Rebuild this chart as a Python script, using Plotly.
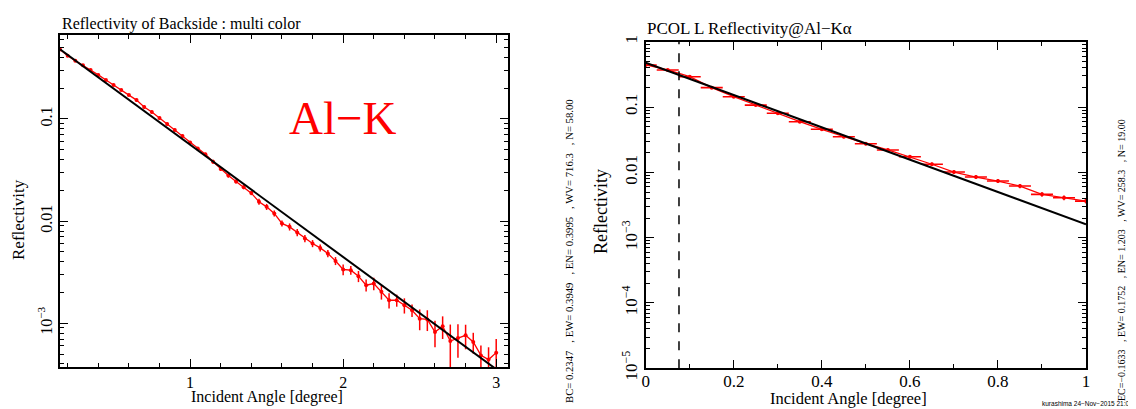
import plotly.graph_objects as go

# ---------------- data: left panel (Backside, multi color, Al-K) ----------------
left_angle = [0.15, 0.20, 0.25, 0.30, 0.35, 0.40, 0.45, 0.50, 0.55, 0.60,
              0.65, 0.70, 0.75, 0.80, 0.85, 0.90, 0.95, 1.00, 1.05, 1.10,
              1.15, 1.20, 1.25, 1.30, 1.35, 1.40, 1.45, 1.50, 1.55, 1.60,
              1.65, 1.70, 1.75, 1.80, 1.85, 1.90, 1.95, 2.00, 2.05, 2.10,
              2.15, 2.20, 2.25, 2.30, 2.35, 2.40, 2.45, 2.50, 2.55, 2.60,
              2.65, 2.70, 2.75, 2.80, 2.85, 2.90, 2.95, 3.00]
left_refl = [0.480, 0.415, 0.371, 0.335, 0.302, 0.270, 0.241, 0.215, 0.192, 0.172,
             0.153, 0.131, 0.117, 0.102, 0.0893, 0.0780, 0.0681, 0.0589, 0.0514, 0.0451,
             0.0381, 0.0324, 0.0279, 0.0244, 0.0215, 0.0188, 0.0155, 0.0138, 0.0119, 0.00949,
             0.00879, 0.00775, 0.00676, 0.00604, 0.00547, 0.00482, 0.00408, 0.00336, 0.00331, 0.00289,
             0.00236, 0.00245, 0.00203, 0.00168, 0.00168, 0.00150, 0.00134, 0.00111, 0.00109, 0.000822,
             0.000935, 0.000670, 0.000718, 0.000762, 0.000656, 0.000485, 0.000441, 0.000516]
left_relerr = [0.02, 0.02, 0.02, 0.02, 0.02, 0.02, 0.02, 0.02, 0.02, 0.02,
               0.035, 0.035, 0.035, 0.035, 0.035, 0.035, 0.035, 0.035, 0.035, 0.035,
               0.045, 0.045, 0.045, 0.045, 0.045, 0.045, 0.068, 0.068, 0.068, 0.068,
               0.08, 0.08, 0.08, 0.08, 0.08, 0.08, 0.09, 0.12, 0.10, 0.125,
               0.135, 0.14, 0.16, 0.17, 0.135, 0.17, 0.14, 0.23, 0.23, 0.29,
               0.25, 0.45, 0.36, 0.27, 0.23, 0.25, 0.32, 0.36]
left_fit_angle = [0.15, 3.0]
left_fit_refl = [0.48, 3.55e-4]

# ---------------- data: right panel (PCOL L, Al-K alpha) ----------------
right_angle = [0.00, 0.05, 0.10, 0.15, 0.20, 0.25, 0.30, 0.35, 0.40, 0.45, 0.50,
               0.55, 0.60, 0.65, 0.70, 0.75, 0.80, 0.85, 0.90, 0.95, 1.00]
right_refl = [0.440, 0.369, 0.291, 0.198, 0.144, 0.107, 0.0801, 0.0596, 0.0456, 0.0351, 0.0274,
              0.0220, 0.0173, 0.0133, 0.0101, 0.00848, 0.00736, 0.00617, 0.00460, 0.00408, 0.00363]
right_relerr = [0.03, 0.03, 0.03, 0.035, 0.035, 0.04, 0.04, 0.045, 0.045, 0.05, 0.05,
                0.055, 0.06, 0.06, 0.065, 0.07, 0.07, 0.075, 0.08, 0.08, 0.085]
right_halfwidth = [0.025] * 21
right_fit_angle = [0.0, 1.0]
right_fit_refl = [0.477, 0.0016]
critical_angle = 0.0756

left_xticks = [1, 2, 3]
left_yticks = [0.1, 0.01, 0.001]
left_yticktext = ["0.1", "0.01", "10<sup>−3</sup>"]
right_xticks = [0, 0.2, 0.4, 0.6, 0.8, 1]
right_xticktext = ["0", "0.2", "0.4", "0.6", "0.8", "1"]
right_yticks = [1, 0.1, 0.01, 0.001, 1e-4, 1e-5]
right_yticktext = ["1", "0.1", "0.01", "10<sup>−3</sup>", "10<sup>−4</sup>", "10<sup>−5</sup>"]

# the page body has an 8px margin: the figure is sized to fit inside the window
OFF = 8
W, H = 1136 - OFF, 409 - OFF
SERIF = "Liberation Serif"
RED = "#ff0000"

def px_x(v):
    return (v - OFF) / W

def px_y(v):
    return 1 - (v - OFF) / H

fig = go.Figure()

# left panel
fig.add_trace(go.Scatter(
    x=left_angle, y=left_refl, mode="lines+markers",
    line=dict(color=RED, width=1.3),
    marker=dict(color=RED, size=4),
    error_y=dict(type="data", array=[r * e for r, e in zip(left_refl, left_relerr)],
                 color=RED, thickness=1.5, width=0),
    xaxis="x", yaxis="y", showlegend=False))
fig.add_trace(go.Scatter(
    x=left_fit_angle, y=left_fit_refl, mode="lines",
    line=dict(color="black", width=2), xaxis="x", yaxis="y", showlegend=False))

# right panel
fig.add_trace(go.Scatter(
    x=right_angle, y=right_refl, mode="lines+markers",
    line=dict(color=RED, width=1.3),
    marker=dict(color=RED, size=4),
    error_x=dict(type="data", array=right_halfwidth, color=RED, thickness=1.6, width=0),
    error_y=dict(type="data", array=[r * e for r, e in zip(right_refl, right_relerr)],
                 color=RED, thickness=1.5, width=0),
    xaxis="x2", yaxis="y2", showlegend=False))
fig.add_trace(go.Scatter(
    x=right_fit_angle, y=right_fit_refl, mode="lines",
    line=dict(color="black", width=2), xaxis="x2", yaxis="y2", showlegend=False))

fig.add_shape(type="line", xref="x2", yref="y2 domain",
              x0=critical_angle, x1=critical_angle, y0=0, y1=1,
              line=dict(color="black", width=1.5, dash="dash"))

minor_log = [m * 10 ** e for e in range(-5, 1) for m in range(2, 10)]

axis_common = dict(showline=True, linecolor="black", linewidth=1.8, mirror="allticks",
                   ticks="inside", ticklen=8, tickwidth=1.3, tickcolor="black",
                   showgrid=False, zeroline=False, automargin=False)

fig.update_layout(
    width=W, height=H, autosize=False,
    margin=dict(l=0, r=0, t=0, b=0, pad=0),
    paper_bgcolor="white", plot_bgcolor="white",
    font=dict(family=SERIF, color="black", size=16),
    xaxis=dict(axis_common, domain=[px_x(60), px_x(508)], range=[0.15, 3.077],
               tickmode="array", tickvals=left_xticks,
               tickfont=dict(family=SERIF, size=16),
               minor=dict(ticks="inside", ticklen=4, tickwidth=1.3, tickcolor="black",
                          dtick=0.2, tick0=0, showgrid=False),
               anchor="y"),
    yaxis=dict(axis_common, domain=[px_y(367), px_y(35)], type="log",
               range=[-3.428, -0.178],
               tickmode="array", tickvals=left_yticks, ticktext=left_yticktext,
               tickangle=-90, tickfont=dict(family=SERIF, size=16),
               minor=dict(ticks="inside", ticklen=4, tickwidth=1.3, tickcolor="black",
                          tickmode="array", tickvals=minor_log, showgrid=False),
               anchor="x"),
    xaxis2=dict(axis_common, domain=[px_x(645.7), px_x(1086)], range=[0, 1],
                tickmode="array", tickvals=right_xticks, ticktext=right_xticktext,
                tickfont=dict(family=SERIF, size=17), ticklabelstandoff=-4,
                minor=dict(ticks="inside", ticklen=4, tickwidth=1.3, tickcolor="black",
                           dtick=0.1, tick0=0, showgrid=False),
                anchor="y2"),
    yaxis2=dict(axis_common, domain=[px_y(368.3), px_y(41.7)], type="log",
                range=[-5, 0],
                tickmode="array", tickvals=right_yticks, ticktext=right_yticktext,
                tickangle=-90, tickfont=dict(family=SERIF, size=17),
                minor=dict(ticks="inside", ticklen=4, tickwidth=1.3, tickcolor="black",
                           tickmode="array", tickvals=minor_log, showgrid=False),
                anchor="x2"),
)

def ann(text, x, y, size, xanchor="center", yanchor="middle", angle=0,
        color="black", family=SERIF):
    fig.add_annotation(text=text, x=px_x(x), y=px_y(y), xref="paper", yref="paper",
                       showarrow=False, xanchor=xanchor, yanchor=yanchor,
                       textangle=angle, font=dict(family=family, size=size, color=color))

# left panel texts
ann("Reflectivity of Backside : multi color", 60, 24, 16, xanchor="left")
ann("Reflectivity", 18, 220, 17, angle=-90)
ann("Incident Angle [degree]", 267, 397, 16)
ann("Al−K", 343, 118, 47, color=RED)
ann("BC= 0.2347   , EW= 0.3949   , EN= 0.3995   , WV= 716.3   , N= 58.00",
    569, 251, 10.7, angle=-90)

# right panel texts
ann("PCOL L Reflectivity@Al−Kα", 645, 29, 17, xanchor="left")
ann("Reflectivity", 601, 212, 18, angle=-90)
ann("Incident Angle [degree]", 848, 398.5, 16.5)
ann("EC=−0.1633   , EW= 0.1752   , EN= 1.203   , WV= 258.3   , N= 19.00",
    1121, 260, 10, angle=-90)
ann("kurashima 24−Nov−2015 21:05", 1135, 403, 6.5, xanchor="right",
    family="Liberation Sans")

fig.write_html("out.html")
